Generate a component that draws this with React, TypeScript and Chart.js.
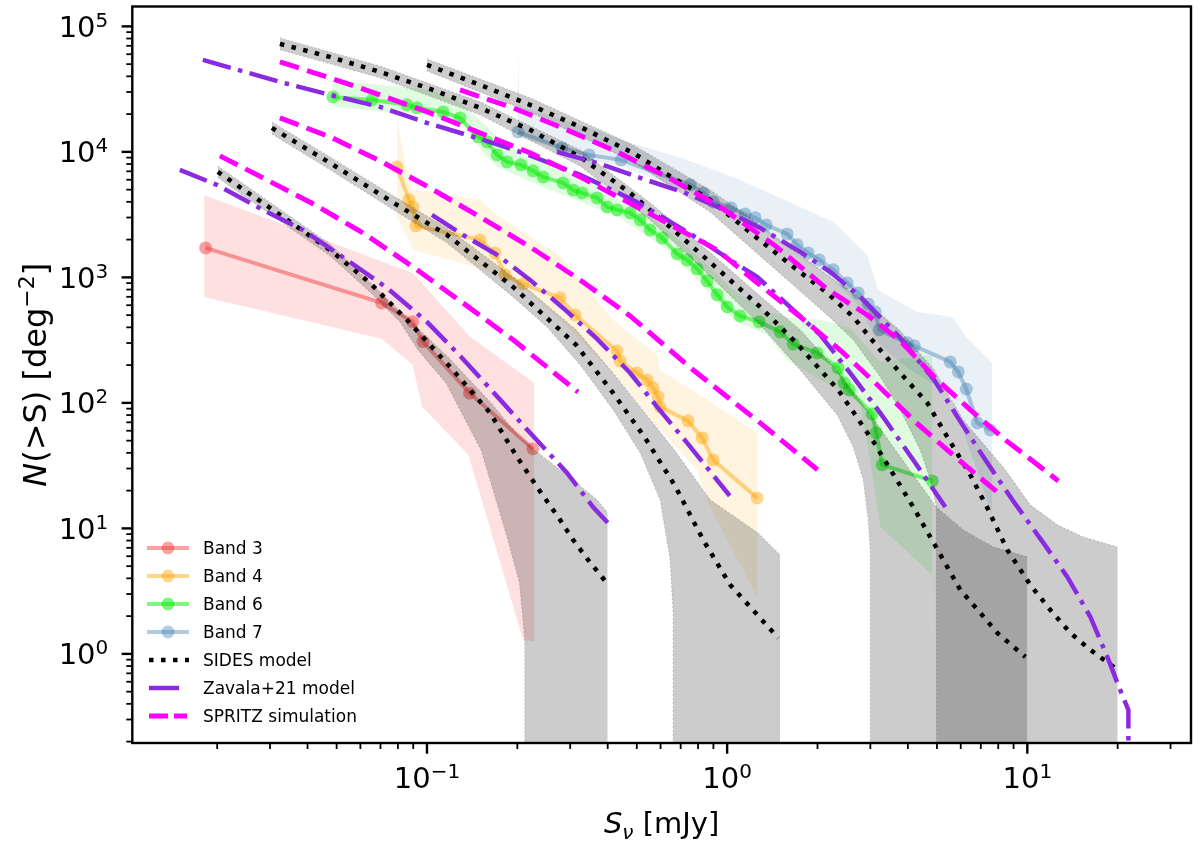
import { useEffect, useRef } from "react";
import { Chart, registerables } from "chart.js";
import type { ChartConfiguration, Plugin } from "chart.js";

Chart.register(...registerables);

type Pt = [number, number]; // [S_nu (mJy), N(>S) (deg^-2)]

// axis ranges and labelled decades
const X_MIN = 0.01043;
const X_MAX = 35.1;
const Y_MIN = 0.195;
const Y_MAX = 1.44e5;
const X_TICK_EXP = [-1, 0, 1];
const Y_TICK_EXP = [0, 1, 2, 3, 4, 5];

const LEGEND_LABELS = [
  "Band 3",
  "Band 4",
  "Band 6",
  "Band 7",
  "SIDES model",
  "Zavala+21 model",
  "SPRITZ simulation",
];

// measured counts
const band3: Pt[] = [[0.0183, 1718], [0.0706, 626], [0.0896, 444], [0.097, 308], [0.1387, 119.5], [0.2254, 43.2]];
const band3Hi: Pt[] = [[0.0181, 4540], [0.0898, 1086], [0.139, 336], [0.228, 144]];
const band3Lo: Pt[] = [[0.0181, 699], [0.0706, 324], [0.0895, 201], [0.0962, 93.4], [0.1375, 38.5], [0.209, 1.29], [0.228, 1.25]];

const band4: Pt[] = [
  [0.0794, 7590], [0.0871, 4146], [0.0898, 3645], [0.0919, 2572], [0.1502, 1990], [0.1685, 1567],
  [0.182, 1047], [0.2089, 888], [0.2775, 687], [0.3114, 502], [0.4299, 259], [0.4399, 216],
  [0.5012, 173], [0.5412, 152], [0.5666, 132], [0.5888, 112], [0.598, 92.9], [0.7413, 71.9],
  [0.8254, 52.6], [0.8983, 35.1], [1.259, 17.5],
];
const band4Hi: Pt[] = [
  [0.0794, 19000], [0.0845, 8170], [0.0898, 4980], [0.1502, 4146], [0.1712, 3148], [0.2775, 1484],
  [0.4169, 459], [0.5843, 241], [0.598, 183], [0.8577, 105.7], [1.26, 57.7],
];
const band4Lo: Pt[] = [
  [0.0794, 3034], [0.0898, 1656], [0.1502, 1191], [0.2089, 825], [0.2775, 459], [0.4299, 161],
  [0.5843, 64.4], [0.7943, 29.3], [0.8777, 14.8], [1.26, 2.85],
];

const band6: Pt[] = [
  [0.0486, 27420], [0.0656, 25960], [0.0858, 23710], [0.0926, 22430], [0.1131, 20830], [0.1288, 18660],
  [0.1479, 13180], [0.1585, 12020], [0.1712, 9460], [0.1848, 8320], [0.2057, 7880], [0.2256, 7060],
  [0.2436, 6320], [0.284, 5660], [0.3067, 4980], [0.3286, 4710], [0.3686, 4300], [0.3981, 3645],
  [0.4299, 3450], [0.475, 3266], [0.5129, 2871], [0.5538, 2390], [0.6072, 2064], [0.6813, 1538],
  [0.7356, 1377], [0.7943, 1169], [0.8577, 938], [0.9261, 726], [1.0, 582], [1.105, 493],
  [1.278, 442], [1.502, 368], [1.66, 295], [1.995, 250], [2.344, 190], [2.455, 144], [2.551, 127],
  [3.043, 81.7], [3.139, 57.7], [3.287, 32.1], [4.825, 23.9],
];
const band6Hi: Pt[] = [
  [0.0483, 37500], [0.1023, 31190], [0.1259, 25960], [0.1537, 17030], [0.1792, 11800], [0.2042, 9820],
  [0.2436, 8170], [0.3311, 6320], [0.3774, 4980], [0.4861, 3783], [0.631, 2390], [0.8128, 1430],
  [1.047, 795], [1.359, 531], [1.622, 476], [2.042, 459], [2.57, 396], [3.236, 212], [4.825, 241],
];
const band6Lo: Pt[] = [
  [0.0483, 22840], [0.0736, 20830], [0.0926, 20450], [0.1318, 16410], [0.1537, 9820], [0.1712, 7590],
  [0.2436, 5260], [0.3311, 3925], [0.4399, 2980], [0.631, 1656], [0.8128, 904], [1.047, 459],
  [1.359, 348], [1.585, 220], [2.042, 152], [2.775, 100], [2.996, 35.1], [3.236, 10.3], [4.825, 4.26],
];

const band7: Pt[] = [
  [0.201, 14430], [0.2818, 10760], [0.3467, 9460], [0.4433, 8630], [0.7528, 5460], [0.8318, 4710],
  [0.8983, 3995], [1.031, 3580], [1.148, 3206], [1.24, 2980], [1.349, 2620], [1.585, 2221],
  [1.711, 1816], [1.862, 1567], [2.026, 1377], [2.256, 1148], [2.512, 904], [2.733, 752],
  [2.951, 615], [3.114, 531], [3.211, 382], [3.981, 301], [4.201, 285], [5.538, 212],
  [5.888, 176.6], [6.261, 129], [6.813, 69.3], [7.527, 60.9],
];
const band7Hi: Pt[] = [
  [0.201, 65000], [0.2033, 22840], [0.3494, 15530], [0.4642, 12020], [0.7356, 8630], [1.047, 6320],
  [1.359, 4800], [1.751, 3645], [2.256, 2770], [2.929, 1511], [3.186, 795], [4.299, 531],
  [5.623, 484], [6.261, 336], [7.642, 208],
];
const band7Lo: Pt[] = [
  [0.201, 13180], [0.3494, 8630], [0.4433, 7730], [0.7528, 4800], [1.031, 3090], [1.349, 2263],
  [1.711, 1511], [2.256, 955], [2.733, 604], [3.211, 290], [3.981, 190], [5.538, 116],
  [6.261, 50.7], [6.973, 23.9], [7.642, 12.4],
];

// SIDES model (median and envelope), one per band
const sides3: Pt[] = [
  [0.0201, 6930], [0.03067, 3450], [0.0475, 1656], [0.06457, 904], [0.08577, 459], [0.1193, 194],
  [0.1622, 83.2], [0.1995, 37.1], [0.2326, 21.4], [0.2775, 11.7], [0.3067, 8.1], [0.3441, 5.61], [0.4, 3.6],
];
const sides3Hi: Pt[] = [
  [0.0201, 7730], [0.0475, 1849], [0.1193, 224], [0.1622, 102], [0.1995, 56.6], [0.2326, 40.7],
  [0.2775, 29.3], [0.3236, 21.8], [0.3686, 16.9], [0.4, 13.3],
];
const sides3Lo: Pt[] = [
  [0.0201, 6210], [0.0475, 1484], [0.06457, 766], [0.0813, 442], [0.0933, 264], [0.1157, 144],
  [0.1514, 42.2], [0.1848, 8.55], [0.2033, 3.68], [0.2117, 1.29], [0.212, 0.05], [0.4, 0.05],
];

const sides4: Pt[] = [
  [0.03043, 15530], [0.0475, 8170], [0.07943, 3783], [0.1166, 2181], [0.1936, 840], [0.3139, 290],
  [0.4169, 120], [0.5329, 52.6], [0.6709, 21.8], [0.8318, 8.1], [1.0233, 3.55], [1.48, 1.34],
];
const sides4Hi: Pt[] = [
  [0.03043, 17340], [0.0475, 9120], [0.07943, 4300], [0.1166, 2478], [0.1936, 1009], [0.3139, 382],
  [0.4169, 173], [0.5329, 83.2], [0.6709, 41.5], [0.8777, 16.9], [1.268, 9.21], [1.5, 6.15],
];
const sides4Lo: Pt[] = [
  [0.03043, 13910], [0.0475, 7190], [0.07943, 3326], [0.1166, 1884], [0.1936, 699], [0.2512, 403],
  [0.3236, 201], [0.4169, 88], [0.5129, 40], [0.598, 16.9], [0.6457, 5.61], [0.6607, 2.12],
  [0.661, 0.05], [1.5, 0.05],
];

const sides6: Pt[] = [
  [0.03236, 72550], [0.0475, 57130], [0.06971, 43390], [0.1023, 31760], [0.1502, 22430], [0.2205, 14970],
  [0.3236, 9120], [0.475, 4710], [0.6505, 2478], [0.905, 1236], [1.288, 582], [1.698, 301],
  [2.344, 127], [3.09, 48.0], [4.169, 14.8], [5.98, 3.24], [6.973, 2.12], [7.943, 1.47], [9.85, 0.946],
];
const sides6Hi: Pt[] = [
  [0.03236, 80950], [0.06971, 48420], [0.1502, 25030], [0.3236, 10370], [0.5538, 3925], [0.905, 1484],
  [1.288, 712], [1.751, 382], [2.344, 176.6], [3.09, 73.2], [4.169, 26.7], [4.975, 14.8],
  [6.118, 9.73], [7.702, 7.12], [10, 5.93],
];
const sides6Lo: Pt[] = [
  [0.03236, 65000], [0.06971, 38900], [0.1502, 19720], [0.3236, 7730], [0.5538, 2871], [0.905, 955],
  [1.288, 418], [1.751, 183], [2.326, 80.2], [2.63, 44.6], [2.84, 24.4], [2.951, 11.7],
  [2.996, 6.74], [3.0, 0.05], [10, 0.05],
];

const sides7: Pt[] = [
  [0.1, 49340], [0.1502, 34200], [0.2205, 23710], [0.3236, 15820], [0.4861, 9820], [0.6358, 6560],
  [0.8777, 4146], [1.2211, 2181], [1.66, 1213], [2.154, 752], [2.63, 484], [3.236, 264],
  [3.774, 173], [4.642, 100], [5.412, 53.6], [6.457, 26.7], [7.356, 14.6], [8.577, 6.74],
  [10.23, 3.55], [11.93, 2.24], [13.91, 1.47], [16.22, 1.076], [19.5, 0.78],
];
const sides7Hi: Pt[] = [
  [0.1, 55080], [0.2205, 26940], [0.4861, 11370], [0.8777, 4980], [1.2211, 2871], [1.66, 1656],
  [2.154, 1047], [2.84, 662], [3.745, 382], [4.898, 183], [6.118, 73.2], [8.447, 29.3],
  [10.23, 15.4], [12.59, 10.7], [15.37, 8.55], [20, 7.12],
];
const sides7Lo: Pt[] = [
  [0.1, 44200], [0.2205, 20830], [0.4861, 8320], [0.8777, 3326], [1.2211, 1656], [1.66, 871],
  [2.154, 502], [2.63, 318], [3.236, 161], [3.774, 88], [4.395, 42.2], [4.753, 24.4],
  [4.975, 14.8], [4.98, 0.05], [20, 0.05],
];

// Zavala+21 model
const zavala3: Pt[] = [
  [0.01502, 7190], [0.01995, 5460], [0.0284, 3450], [0.03861, 2390], [0.05412, 1377], [0.07356, 825],
  [0.1, 442], [0.1318, 224], [0.1792, 100], [0.2205, 57.7], [0.2928, 27.7], [0.3575, 14.8], [0.4, 11.1],
];
const zavala4: Pt[] = [
  [0.1039, 3148], [0.1318, 2181], [0.1712, 1511], [0.2205, 955], [0.284, 571], [0.3686, 324],
  [0.475, 173], [0.5843, 92.9], [0.7356, 48.0], [1.02, 18.2],
];
const zavala6: Pt[] = [
  [0.01792, 54080], [0.03236, 36130], [0.0475, 28460], [0.06971, 22840], [0.1023, 16720], [0.1502, 12700],
  [0.2089, 9820], [0.3236, 6560], [0.4861, 4146], [0.631, 2871], [0.8128, 1990], [1.047, 1330],
  [1.259, 1009], [1.66, 551], [2.042, 348], [2.57, 173], [3.236, 83.2], [4.169, 35.1], [5.333, 14.8],
];
const zavala7: Pt[] = [
  [0.2712, 10000], [0.3774, 8020], [0.5129, 6210], [0.7244, 4710], [0.9477, 3580], [1.288, 2478],
  [1.751, 1596], [2.204, 1106], [2.775, 699], [3.745, 336], [4.898, 152], [5.934, 73.2],
  [7.356, 33.3], [8.913, 16.9], [11.31, 7.66], [13.59, 4.11], [16.22, 1.97], [18.48, 0.946],
  [19.95, 0.587], [21.71, 0.358], [21.72, 0.05],
];

// SPRITZ simulation
const spritz3: Pt[] = [
  [0.02042, 9290], [0.0284, 6210], [0.04169, 3865], [0.06117, 2263], [0.0898, 1213], [0.1318, 626],
  [0.1936, 318], [0.3186, 122],
];
const spritz4: Pt[] = [
  [0.03236, 18660], [0.0475, 13180], [0.06971, 8480], [0.1023, 5165], [0.1502, 3034], [0.2205, 1750],
  [0.3236, 955], [0.475, 493], [0.7704, 183], [1.288, 69.3], [2.0, 29.3],
];
const spritz6: Pt[] = [
  [0.03236, 52130], [0.0475, 38900], [0.06971, 28460], [0.1023, 20450], [0.1502, 14170], [0.2205, 9820],
  [0.3236, 6320], [0.5538, 3206], [0.9261, 1656], [1.259, 904], [1.738, 493], [2.417, 255],
  [3.186, 137], [4.234, 70.6], [5.754, 37.1], [8.0, 19.2],
];
const spritz7: Pt[] = [
  [0.1288, 31190], [0.1936, 22430], [0.2928, 14970], [0.4299, 10000], [0.631, 6320], [0.9477, 3645],
  [1.434, 1816], [2.171, 795], [2.929, 502], [3.745, 318], [4.898, 161], [6.457, 88],
  [8.447, 50.7], [12.69, 23.9],
];

const BAND_COLORS = ["rgba(238,50,50,0.45)", "rgba(255,165,0,0.45)", "rgba(0,235,0,0.5)", "rgba(70,130,180,0.42)"];
const BAND_SHADES = ["rgba(255,0,0,0.12)", "rgba(255,165,0,0.12)", "rgba(0,230,0,0.12)", "rgba(70,130,180,0.12)"];
const SIDES_COLOR = "#000000";
const SIDES_SHADE = "rgba(0,0,0,0.2)";
const ZAVALA_COLOR = "#8a2be2";
const SPRITZ_COLOR = "#ff00ff";

const SIDES_DASH = [4.5, 7.5];
const ZAVALA_DASH = [29, 7.5, 4.5, 7.5];
const SPRITZ_DASH = [20, 8.5];

const FONT = '"DejaVu Sans", sans-serif';
const TICK_SIZE = 29;
const SUP_SIZE = 20;
const LABEL_SIZE = 32;

const pts = (a: Pt[]) => a.map(([x, y]) => ({ x, y }));

const curve = (d: Pt[], color: string, width: number, dash: number[], order: number) => ({
  data: pts(d),
  borderColor: color,
  borderWidth: width,
  borderDash: dash,
  pointRadius: 0,
  fill: false,
  tension: 0,
  clip: 0,
  order,
});

const envelope = (hi: Pt[], lo: Pt[], shade: string, edge: string | null, order: number) => [
  {
    data: pts(hi),
    borderColor: edge ?? "rgba(0,0,0,0)",
    borderWidth: edge ? 1.2 : 0,
    borderDash: [2, 2],
    backgroundColor: shade,
    pointRadius: 0,
    fill: "+1",
    tension: 0,
    clip: 0,
    order,
  },
  {
    data: pts(lo),
    borderColor: edge ?? "rgba(0,0,0,0)",
    borderWidth: edge ? 1.2 : 0,
    borderDash: [2, 2],
    backgroundColor: shade,
    pointRadius: 0,
    fill: false,
    tension: 0,
    clip: 0,
    order,
  },
];

const measured = (d: Pt[], color: string, order: number) => ({
  data: pts(d),
  borderColor: color,
  borderWidth: 4,
  pointRadius: 6.5,
  pointBackgroundColor: color,
  pointBorderWidth: 0,
  fill: false,
  tension: 0,
  clip: 0,
  order,
});

type Run = { t: string; size: number; italic?: boolean; dy?: number };

const runFont = (r: Run) => `${r.italic ? "italic " : ""}${r.size}px ${FONT}`;

function runsWidth(ctx: CanvasRenderingContext2D, runs: Run[]) {
  let w = 0;
  for (const r of runs) {
    ctx.font = runFont(r);
    w += ctx.measureText(r.t).width;
  }
  return w;
}

function drawRuns(ctx: CanvasRenderingContext2D, runs: Run[], x: number, y: number) {
  let cx = x;
  for (const r of runs) {
    ctx.font = runFont(r);
    ctx.fillText(r.t, cx, y + (r.dy ?? 0));
    cx += ctx.measureText(r.t).width;
  }
}

const powerRuns = (e: number): Run[] => [
  { t: "10", size: TICK_SIZE },
  { t: e < 0 ? "\u2212" + -e : String(e), size: SUP_SIZE, dy: -10 },
];

const decorPlugin: Plugin<"line"> = {
  id: "decor",
  afterDraw(chart) {
    const { ctx, chartArea: a } = chart;
    const xs = chart.scales.x;
    const ys = chart.scales.y;
    ctx.save();
    ctx.fillStyle = "#000";
    ctx.strokeStyle = "#000";
    ctx.textAlign = "left";
    ctx.textBaseline = "alphabetic";

    // ticks
    for (let e = -3; e <= 6; e++) {
      for (let m = 1; m < 10; m++) {
        const v = m * Math.pow(10, e);
        const major = m === 1;
        ctx.lineWidth = major ? 2.4 : 1.8;
        if (v >= X_MIN && v <= X_MAX) {
          const px = xs.getPixelForValue(v);
          ctx.beginPath();
          ctx.moveTo(px, a.bottom);
          ctx.lineTo(px, a.bottom + (major ? 10.7 : 6));
          ctx.stroke();
        }
        if (v >= Y_MIN && v <= Y_MAX) {
          const py = ys.getPixelForValue(v);
          ctx.beginPath();
          ctx.moveTo(a.left, py);
          ctx.lineTo(a.left - (major ? 10.7 : 6), py);
          ctx.stroke();
        }
      }
    }

    // frame
    ctx.lineWidth = 2.4;
    ctx.strokeRect(a.left, a.top, a.right - a.left, a.bottom - a.top);

    // tick labels
    for (const e of X_TICK_EXP) {
      const runs = powerRuns(e);
      const w = runsWidth(ctx, runs);
      drawRuns(ctx, runs, xs.getPixelForValue(Math.pow(10, e)) - w / 2, a.bottom + 45);
    }
    for (const e of Y_TICK_EXP) {
      const runs = powerRuns(e);
      const w = runsWidth(ctx, runs);
      drawRuns(ctx, runs, a.left - 24 - w, ys.getPixelForValue(Math.pow(10, e)) + 10.5);
    }

    // axis titles
    const xRuns: Run[] = [
      { t: "S", size: TICK_SIZE, italic: true },
      { t: "\u03bd", size: SUP_SIZE, italic: true, dy: 6 },
      { t: " [mJy]", size: TICK_SIZE },
    ];
    const xw = runsWidth(ctx, xRuns);
    drawRuns(ctx, xRuns, (a.left + a.right) / 2 - xw / 2, 833);

    const yRuns: Run[] = [
      { t: "N", size: LABEL_SIZE, italic: true },
      { t: "(>S) [deg", size: LABEL_SIZE },
      { t: "\u22122", size: SUP_SIZE + 2, dy: -12 },
      { t: "]", size: LABEL_SIZE },
    ];
    const yw = runsWidth(ctx, yRuns);
    ctx.save();
    ctx.translate(46, (a.top + a.bottom) / 2);
    ctx.rotate(-Math.PI / 2);
    drawRuns(ctx, yRuns, -yw / 2, 0);
    ctx.restore();

    // legend
    const lx0 = 147;
    const lx1 = 189;
    const ty0 = 548;
    const dy = 28;
    LEGEND_LABELS.forEach((label, i) => {
      const y = ty0 + i * dy;
      ctx.save();
      ctx.lineCap = "butt";
      if (i < 4) {
        ctx.strokeStyle = BAND_COLORS[i];
        ctx.lineWidth = 4;
        ctx.beginPath();
        ctx.moveTo(lx0, y);
        ctx.lineTo(lx1, y);
        ctx.stroke();
        ctx.fillStyle = BAND_COLORS[i];
        ctx.beginPath();
        ctx.arc((lx0 + lx1) / 2, y, 6.5, 0, Math.PI * 2);
        ctx.fill();
      } else if (i === 4) {
        ctx.strokeStyle = SIDES_COLOR;
        ctx.lineWidth = 4.5;
        ctx.setLineDash(SIDES_DASH);
        ctx.beginPath();
        ctx.moveTo(149, y);
        ctx.lineTo(lx1, y);
        ctx.stroke();
      } else if (i === 5) {
        ctx.strokeStyle = ZAVALA_COLOR;
        ctx.lineWidth = 4.5;
        ctx.beginPath();
        ctx.moveTo(149, y);
        ctx.lineTo(179, y);
        ctx.stroke();
      } else {
        ctx.strokeStyle = SPRITZ_COLOR;
        ctx.lineWidth = 5;
        ctx.setLineDash([19, 6]);
        ctx.beginPath();
        ctx.moveTo(149, y);
        ctx.lineTo(187, y);
        ctx.stroke();
      }
      ctx.restore();
      ctx.font = `17px ${FONT}`;
      ctx.fillText(label, 203, y + 6.2);
    });

    ctx.restore();
  },
};

export default function App() {
  const canvasRef = useRef<HTMLCanvasElement | null>(null);

  useEffect(() => {
    if (!canvasRef.current) return;

    // layers: higher order is drawn first (further back)
    const datasets: any[] = [
      curve(spritz3, SPRITZ_COLOR, 5, SPRITZ_DASH, 10),
      curve(spritz4, SPRITZ_COLOR, 5, SPRITZ_DASH, 10),
      curve(spritz6, SPRITZ_COLOR, 5, SPRITZ_DASH, 10),
      curve(spritz7, SPRITZ_COLOR, 5, SPRITZ_DASH, 10),
      curve(zavala3, ZAVALA_COLOR, 4.5, ZAVALA_DASH, 20),
      curve(zavala4, ZAVALA_COLOR, 4.5, ZAVALA_DASH, 20),
      curve(zavala6, ZAVALA_COLOR, 4.5, ZAVALA_DASH, 20),
      curve(zavala7, ZAVALA_COLOR, 4.5, ZAVALA_DASH, 20),
      curve(sides3, SIDES_COLOR, 4.5, SIDES_DASH, 30),
      curve(sides4, SIDES_COLOR, 4.5, SIDES_DASH, 30),
      curve(sides6, SIDES_COLOR, 4.5, SIDES_DASH, 30),
      curve(sides7, SIDES_COLOR, 4.5, SIDES_DASH, 30),
      ...envelope(sides3Hi, sides3Lo, SIDES_SHADE, "rgba(0,0,0,0.15)", 40),
      ...envelope(sides4Hi, sides4Lo, SIDES_SHADE, "rgba(0,0,0,0.15)", 41),
      ...envelope(sides6Hi, sides6Lo, SIDES_SHADE, "rgba(0,0,0,0.15)", 42),
      ...envelope(sides7Hi, sides7Lo, SIDES_SHADE, "rgba(0,0,0,0.15)", 43),
      measured(band3, BAND_COLORS[0], 50),
      measured(band4, BAND_COLORS[1], 50),
      measured(band6, BAND_COLORS[2], 50),
      measured(band7, BAND_COLORS[3], 50),
      ...envelope(band3Hi, band3Lo, BAND_SHADES[0], null, 60),
      ...envelope(band4Hi, band4Lo, BAND_SHADES[1], null, 61),
      ...envelope(band6Hi, band6Lo, BAND_SHADES[2], null, 62),
      ...envelope(band7Hi, band7Lo, BAND_SHADES[3], null, 63),
    ];

    const config: ChartConfiguration<"line"> = {
      type: "line",
      data: { datasets },
      options: {
        animation: false,
        responsive: true,
        maintainAspectRatio: false,
        events: [],
        layout: { padding: { left: 0, top: 6, right: 9, bottom: 0 } },
        plugins: {
          legend: { display: false },
          tooltip: { enabled: false },
        },
        scales: {
          x: {
            type: "logarithmic",
            min: X_MIN,
            max: X_MAX,
            grid: { display: false },
            border: { display: false },
            ticks: { display: false },
            afterFit: (s: any) => {
              s.height = 99;
            },
          },
          y: {
            type: "logarithmic",
            min: Y_MIN,
            max: Y_MAX,
            grid: { display: false },
            border: { display: false },
            ticks: { display: false },
            afterFit: (s: any) => {
              s.width = 132.3;
            },
          },
        },
      },
      plugins: [decorPlugin],
    };

    const chart = new Chart(canvasRef.current, config);
    return () => {
      chart.destroy();
    };
  }, []);

  return (
    <div style={{ position: "fixed", left: 0, top: 0, width: 1200, height: 842, background: "#ffffff" }}>
      <canvas ref={canvasRef} />
    </div>
  );
}
